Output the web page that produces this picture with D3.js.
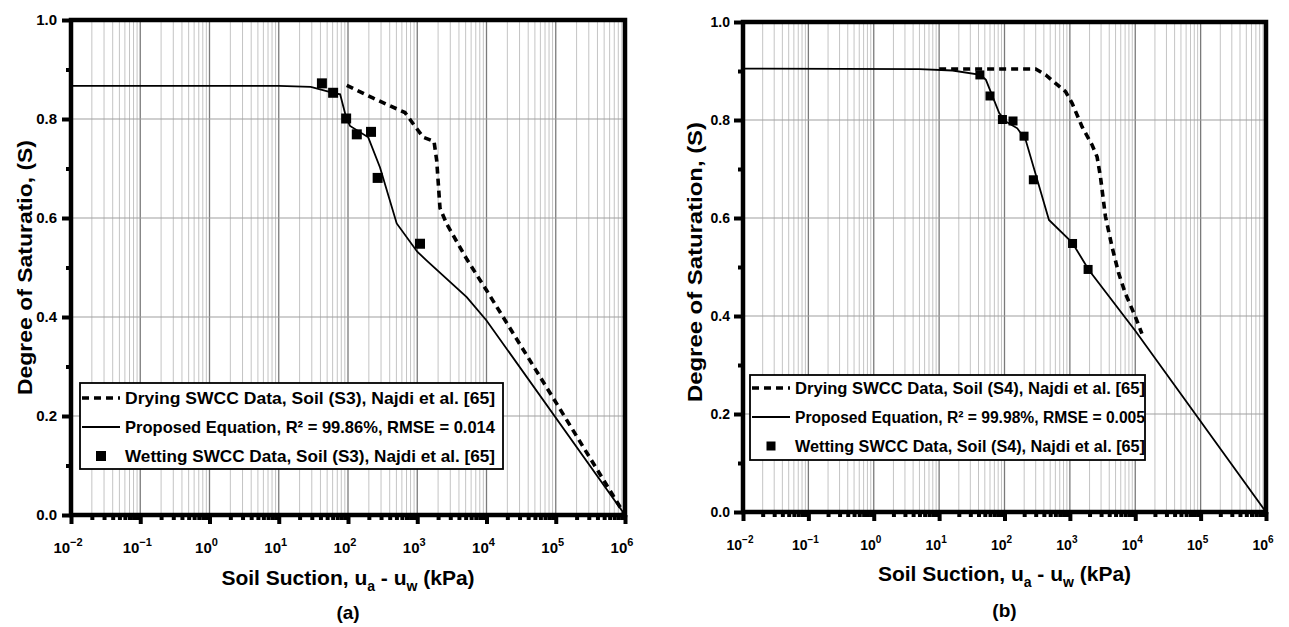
<!DOCTYPE html>
<html>
<head>
<meta charset="utf-8">
<script src="https://cdn.jsdelivr.net/npm/d3@7"></script>
<style>
  body { margin: 0; background: #fff; }
  svg text { font-family: "Liberation Sans", Arial, sans-serif; font-weight: bold; fill: #000; }
</style>
</head>
<body>
<div id="chart-area"></div>
<script>
// ---- data (suction in kPa, degree of saturation) ----
var dryingA = [[96,0.868],[232,0.842],[665,0.813],[877,0.790],[1222,0.763],[1746,0.755],[1910,0.716],
  [2131,0.62],[2662,0.588],[5180,0.517],[10000,0.454],[100000,0.228],[1000000,0.0]];
var modelA = [[0.01,0.867],[10,0.867],[29,0.865],[61,0.853],[77,0.850],[94,0.803],[107,0.786],[196,0.763],
  [290,0.702],[505,0.589],[1000,0.532],[1370,0.514],[5180,0.44],[10000,0.393],[1000000,0.0]];
var wettingA = [[42,0.872],[61,0.853],[94,0.801],[134,0.769],[215,0.774],[268,0.681],[1096,0.548]];

var dryingB = [[10,0.904],[300,0.904],[427,0.892],[859,0.858],[1084,0.834],[1540,0.786],[2188,0.749],
  [2606,0.725],[2936,0.684],[3500,0.603],[4416,0.541],[5580,0.487],[7063,0.446],[10000,0.399],[12640,0.364]];
var modelB = [[0.01,0.905],[5,0.904],[16,0.901],[43,0.892],[52,0.882],[83,0.814],[105,0.797],[157,0.783],
  [211,0.759],[479,0.596],[1084,0.550],[1950,0.494],[10000,0.37],[1000000,0.0]];
var wettingB = [[42,0.892],[60,0.849],[93,0.801],[135,0.798],[199,0.767],[276,0.678],[1099,0.548],[1900,0.495]];

var decades = [-2,-1,0,1,2,3,4,5,6];
var yMajor = [0,0.2,0.4,0.6,0.8,1.0];
var yMinor = [0.1,0.3,0.5,0.7,0.9];
var legendA = ['Drying SWCC Data, Soil (S3), Najdi et al. [65]', 'Proposed Equation, R² = 99.86%, RMSE = 0.014', 'Wetting SWCC Data, Soil (S3), Najdi et al. [65]'];
var legendB = ['Drying SWCC Data, Soil (S4), Najdi et al. [65]', 'Proposed Equation, R² = 99.98%, RMSE = 0.005', 'Wetting SWCC Data, Soil (S4), Najdi et al. [65]'];

var svg = d3.select('#chart-area').append('svg')
  .attr('width', 1289).attr('height', 627);

var minorVals = [];
for (var e = -2; e < 6; e++) for (var m = 2; m <= 9; m++) minorVals.push(m * Math.pow(10, e));

function panel(o) {
  var x = d3.scaleLog().domain([0.01, 1e6]).range([o.left, o.right]);
  var y = d3.scaleLinear().domain([0, 1]).range([o.bottom, o.top]);
  var g = svg.append('g');

  // grid
  g.selectAll('.vminor').data(minorVals).enter().append('line')
    .attr('x1', d => x(d)).attr('x2', d => x(d)).attr('y1', o.top).attr('y2', o.bottom)
    .attr('stroke', '#c4c4c4').attr('stroke-width', 1);
  g.selectAll('.vmajor').data(decades.slice(1, -1)).enter().append('line')
    .attr('x1', d => x(Math.pow(10, d))).attr('x2', d => x(Math.pow(10, d)))
    .attr('y1', o.top).attr('y2', o.bottom)
    .attr('stroke', '#7a7a7a').attr('stroke-width', 1.3);
  g.selectAll('.hgrid').data(yMajor.slice(1, -1)).enter().append('line')
    .attr('x1', o.left).attr('x2', o.right).attr('y1', d => y(d)).attr('y2', d => y(d))
    .attr('stroke', '#a0a0a0').attr('stroke-width', 1.1);

  // axes
  var yAx = g.append('g').attr('transform', `translate(${o.left},0)`)
    .call(d3.axisLeft(y).tickValues(yMajor).tickSize(9).tickPadding(o.yPad).tickFormat(d3.format('.1f')));
  var yAxm = g.append('g').attr('transform', `translate(${o.left},0)`)
    .call(d3.axisLeft(y).tickValues(yMinor).tickSize(5).tickFormat(''));
  var xAx = g.append('g').attr('transform', `translate(0,${o.bottom})`)
    .call(d3.axisBottom(x).tickValues(decades.map(d => Math.pow(10, d))).tickSize(9).tickFormat(''));
  var xAxm = g.append('g').attr('transform', `translate(0,${o.bottom})`)
    .call(d3.axisBottom(x).tickValues(minorVals).tickSize(5).tickFormat(''));
  [yAx, yAxm, xAx, xAxm].forEach(a => {
    a.select('.domain').remove();
    a.selectAll('line').attr('stroke', '#000').attr('stroke-width', 4);
  });
  yAx.selectAll('text').attr('font-size', o.tickFont + 'px')
    .attr('font-family', '"Liberation Sans", Arial, sans-serif').attr('font-weight', 'bold');

  var xl = g.selectAll('.xlab').data(decades).enter().append('text')
    .attr('x', d => x(Math.pow(10, d)) - 3).attr('y', o.bottom + o.xLabDy)
    .attr('text-anchor', 'middle').attr('font-size', o.tickFont + 'px');
  xl.append('tspan').text('10');
  xl.append('tspan').attr('dy', -7).attr('font-size', (o.tickFont - 4) + 'px')
    .text(d => d < 0 ? '\u2212' + (-d) : d);

  // frame
  g.append('rect').attr('x', o.left).attr('y', o.top)
    .attr('width', o.right - o.left).attr('height', o.bottom - o.top)
    .attr('fill', 'none').attr('stroke', '#000').attr('stroke-width', 4.5);

  var line = d3.line().x(d => x(d[0])).y(d => y(d[1]));
  g.append('path').datum(o.model).attr('d', line)
    .attr('fill', 'none').attr('stroke', '#000').attr('stroke-width', 1.8);
  g.append('path').datum(o.drying).attr('d', line)
    .attr('fill', 'none').attr('stroke', '#000').attr('stroke-width', 3.6).attr('stroke-dasharray', '7,5');
  g.selectAll('.pt').data(o.wetting).enter().append('rect')
    .attr('x', d => x(d[0]) - o.sq / 2).attr('y', d => y(d[1]) - o.sq / 2)
    .attr('width', o.sq).attr('height', o.sq).attr('fill', '#000');

  // titles
  var cx = (o.left + o.right) / 2;
  g.append('text').attr('transform', `translate(${o.yTitleX},${(o.top + o.bottom) / 2 + o.yTitleShift}) rotate(-90)`)
    .attr('text-anchor', 'middle').attr('font-size', '21px')
    .attr('textLength', o.yTitleLen).attr('lengthAdjust', 'spacingAndGlyphs').text(o.yTitle);
  var xt = g.append('text').attr('x', cx).attr('y', o.xTitleY).attr('text-anchor', 'middle').attr('font-size', '21px');
  xt.append('tspan').text('Soil Suction, u');
  xt.append('tspan').attr('dy', 6).attr('font-size', '14px').text('a');
  xt.append('tspan').attr('dy', -6).text(' - u');
  xt.append('tspan').attr('dy', 6).attr('font-size', '14px').text('w');
  xt.append('tspan').attr('dy', -6).text(' (kPa)');
  g.append('text').attr('x', cx).attr('y', o.capY).attr('text-anchor', 'middle').attr('font-size', '19px').text(o.cap);

  // legend
  var L = o.leg;
  var lg = g.append('g');
  lg.append('rect').attr('x', L.x).attr('y', L.y).attr('width', L.w).attr('height', L.h)
    .attr('fill', '#fff').attr('stroke', '#000').attr('stroke-width', 1.8);
  o.legText.forEach((t, i) => {
    var ry = L.y + L.row0 + i * L.step;
    if (i === 0) lg.append('line').attr('x1', L.x + 2).attr('x2', L.x + 40).attr('y1', ry).attr('y2', ry)
      .attr('stroke', '#000').attr('stroke-width', 3.6).attr('stroke-dasharray', '7,5');
    if (i === 1) lg.append('line').attr('x1', L.x + 2).attr('x2', L.x + 40).attr('y1', ry).attr('y2', ry)
      .attr('stroke', '#000').attr('stroke-width', 1.8);
    if (i === 2) lg.append('rect').attr('x', L.x + 21 - o.sq / 2).attr('y', ry - o.sq / 2)
      .attr('width', o.sq).attr('height', o.sq).attr('fill', '#000');
    lg.append('text').attr('x', L.x + 45).attr('y', ry + L.font * 0.36)
      .attr('font-size', L.font + 'px').attr('textLength', L.tw).attr('lengthAdjust', 'spacingAndGlyphs').text(t);
  });
}

panel({ left: 71, right: 625, top: 20, bottom: 515, tickFont: 15, yPad: 5, xLabDy: 38, sq: 10,
  model: modelA, drying: dryingA, wetting: wettingA,
  yTitle: 'Degree of Saturatio, (S)', yTitleX: 32, yTitleShift: 0, yTitleLen: 255,
  xTitleY: 585, cap: '(a)', capY: 619,
  legText: legendA, leg: { x: 80, y: 383, w: 423, h: 86, row0: 15, step: 29, font: 17, tw: 370 } });

panel({ left: 743, right: 1266, top: 22, bottom: 512, tickFont: 14, yPad: 4, xLabDy: 38, sq: 9,
  model: modelB, drying: dryingB, wetting: wettingB,
  yTitle: 'Degree of Saturation, (S)', yTitleX: 702, yTitleShift: -5, yTitleLen: 280,
  xTitleY: 581, cap: '(b)', capY: 617,
  legText: legendB, leg: { x: 750, y: 375, w: 395, h: 85, row0: 13, step: 29, font: 16, tw: 350 } });
</script>
</body>
</html>
